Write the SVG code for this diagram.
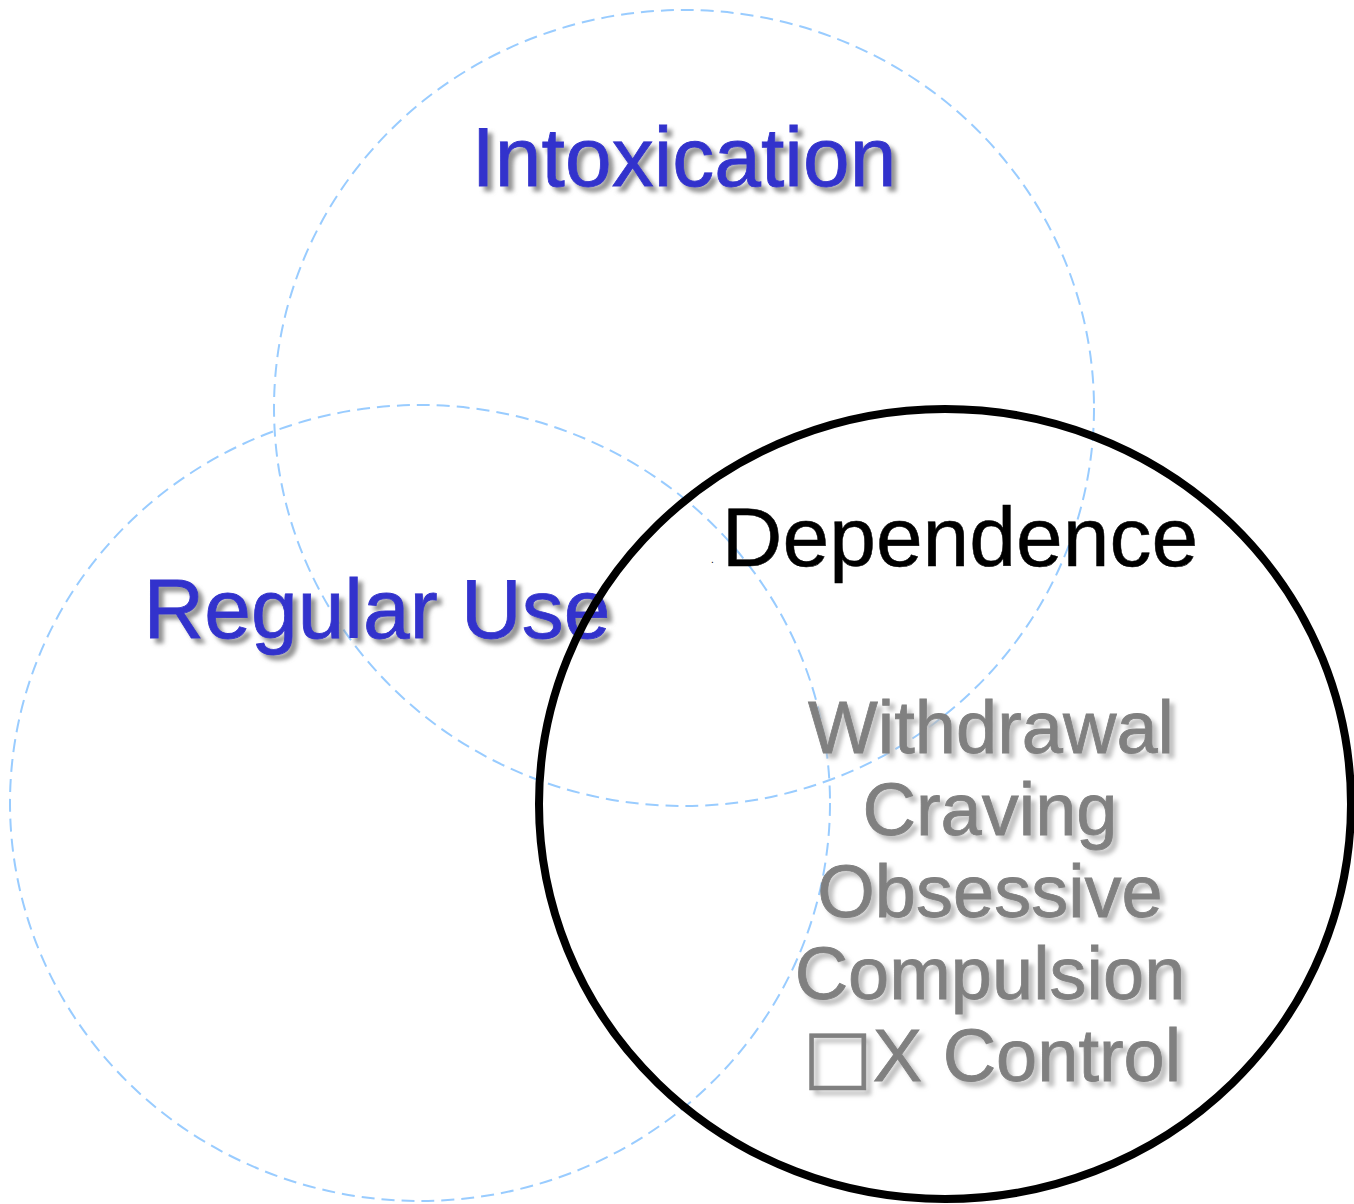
<svg xmlns="http://www.w3.org/2000/svg" width="1354" height="1204" viewBox="0 0 1354 1204">
<defs>
<style>
.dash{fill:none;stroke:#99ccff;stroke-width:2;stroke-dasharray:13 7}
.blue{font-family:"Liberation Sans",Arial,sans-serif;font-size:84px;fill:#3333cc;stroke:#3333cc;stroke-width:0.8;text-anchor:middle}
.gray{font-family:"Liberation Sans",Arial,sans-serif;font-size:74px;fill:#808080;stroke:#808080;stroke-width:0.8;text-anchor:middle}
</style>
<filter id="shB" x="-10%" y="-20%" width="130%" height="150%">
<feGaussianBlur in="SourceAlpha" stdDeviation="2"/>
<feOffset dx="5" dy="5" result="o"/>
<feFlood flood-color="#808080" flood-opacity="0.85"/>
<feComposite in2="o" operator="in"/>
<feMerge><feMergeNode/><feMergeNode in="SourceGraphic"/></feMerge>
</filter>
<filter id="shG" x="-10%" y="-20%" width="130%" height="150%">
<feGaussianBlur in="SourceAlpha" stdDeviation="2"/>
<feOffset dx="5" dy="5" result="o"/>
<feFlood flood-color="#b8b8b8" flood-opacity="0.9"/>
<feComposite in2="o" operator="in"/>
<feMerge><feMergeNode/><feMergeNode in="SourceGraphic"/></feMerge>
</filter>
</defs>
<rect width="1354" height="1204" fill="#ffffff"/>
<g id="intoxication">
<ellipse class="dash" cx="684" cy="408" rx="410" ry="398"/>
<text class="blue" x="684" y="186" filter="url(#shB)">Intoxication</text>
</g>
<g id="regular-use">
<ellipse class="dash" cx="420" cy="803" rx="410" ry="398"/>
<text class="blue" x="377" y="638" filter="url(#shB)">Regular Use</text>
</g>
<g id="dependence">
<ellipse cx="945" cy="804" rx="406" ry="395" fill="none" stroke="#000000" stroke-width="8"/>
<text x="711" y="563" font-family="Liberation Sans,Arial,sans-serif" font-size="10" fill="#000000">.</text>
<text x="960" y="566" font-family="Liberation Sans,Arial,sans-serif" font-size="84" fill="#000000" stroke="#000000" stroke-width="0.5" text-anchor="middle">Dependence</text>
<g filter="url(#shG)">
<text class="gray" x="991" y="753">Withdrawal</text>
<text class="gray" x="990" y="835">Craving</text>
<text class="gray" x="990" y="917">Obsessive</text>
<text class="gray" x="990" y="999">Compulsion</text>
<text class="gray" x="992" y="1081"><tspan font-family="DejaVu Sans,sans-serif" stroke-width="0.5">□</tspan>X Control</text>
</g>
</g>
<g id="connectors"/>
</svg>
